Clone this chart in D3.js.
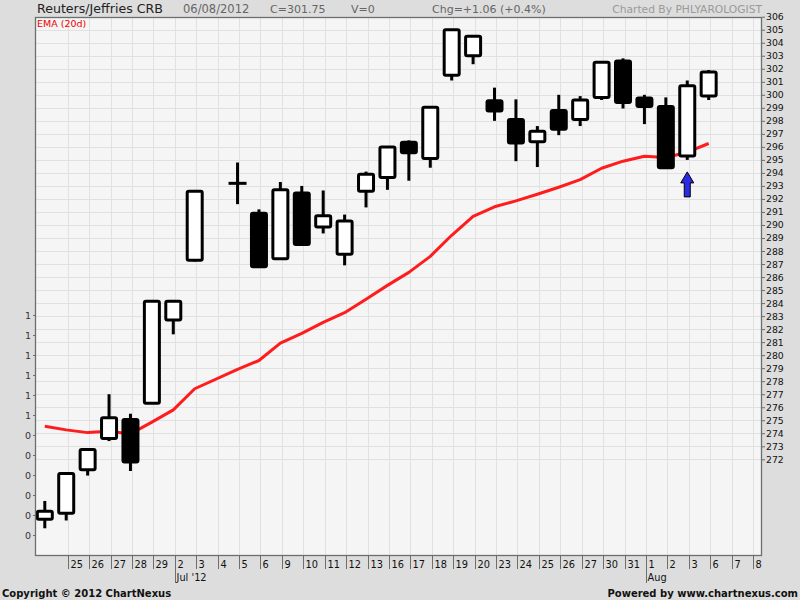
<!DOCTYPE html>
<html><head><meta charset="utf-8">
<script src="https://cdn.jsdelivr.net/npm/d3@7"></script>
<style>
html,body{margin:0;padding:0;background:#dddddd;}
svg{display:block;}
text{font-family:"DejaVu Sans",sans-serif;}
</style></head>
<body>
<svg id="c" width="800" height="600"></svg>
<script>
// ---- data ----
const slots = ["06-22","06-25","06-26","06-27","06-28","06-29","07-02","07-03","07-04","07-05","07-06","07-09","07-10","07-11","07-12","07-13","07-16","07-17","07-18","07-19","07-20","07-23","07-24","07-25","07-26","07-27","07-30","07-31","08-01","08-02","08-03","08-06","08-07","08-08"];
const slotLabels = ["","25","26","27","28","29","2","3","4","5","6","9","10","11","12","13","16","17","18","19","20","23","24","25","26","27","30","31","1","2","3","6","7","8"];
const monthSlots = ["07-02","08-01"];
const monthLabels = ["Jul '12","Aug"];

const candleDates = ["06-22","06-25","06-26","06-27","06-28","06-29","07-02","07-03","07-05","07-06","07-09","07-10","07-11","07-12","07-13","07-16","07-17","07-18","07-19","07-20","07-23","07-24","07-25","07-26","07-27","07-30","07-31","08-01","08-02","08-03","08-06"];
const openV  = [267.4,267.85,271.2,273.6,275.05,276.3,282.7,287.3,293.15,290.9,287.4,292.45,289.85,287.75,292.6,293.65,296.35,295.1,301.5,303.0,299.55,298.1,296.4,298.8,298.1,299.8,302.6,299.75,299.1,295.3,299.9];
const highV  = [268.8,270.9,272.8,277.0,275.5,284.2,284.15,292.6,294.8,291.2,293.3,293.0,292.65,290.8,294.1,296.0,296.5,299.05,305.0,304.5,300.55,299.65,297.6,300.0,299.9,302.5,302.8,300.0,299.8,301.1,301.9];
const lowV   = [266.7,267.3,270.75,273.4,271.1,276.3,281.6,287.2,291.6,286.7,287.4,288.5,289.35,286.9,291.35,292.7,293.4,294.4,301.1,302.35,298.0,294.9,294.45,296.9,297.6,299.6,298.95,297.75,294.4,295.0,299.6];
const closeV = [268.0,270.9,272.75,275.2,271.8,284.15,284.15,292.6,293.2,286.8,292.7,288.5,290.7,290.3,293.9,296.0,295.55,299.05,305.0,304.5,298.75,296.3,297.2,297.35,299.6,302.5,299.4,299.1,294.4,300.7,301.75];
const emaV   = [274.54,274.26,274.05,274.15,273.95,274.86,275.8,277.42,278.9,279.59,280.92,281.67,282.52,283.26,284.3,285.36,286.36,287.59,289.21,290.67,291.4,291.85,292.36,292.9,293.48,294.36,294.9,295.28,295.18,295.59,296.26];
const rightTicks = d3.range(272, 307);
const leftLabels = ["1","1","1","1","1","1","0","0","0","0","0","0"];
const arrowDate = "08-03";

// ---- layout ----
const svg = d3.select("#c");
const L = 35, R = 762, T = 17, B = 555;
const x = d3.scalePoint().domain(slots).range([46.3, 753]);
const cx = d => x(d) - 1.5;
const y = d3.scaleLinear().domain([272, 306]).range([459.3, 16.7]);
const yl = d3.scaleLinear().domain([0, 11]).range([315, 535]);

// plot background
svg.append("rect").attr("x", L).attr("y", T).attr("width", R - L).attr("height", B - T).attr("fill", "#f5f5f5");

// grid
const g = svg.append("g").attr("stroke", "#e1e1e1").attr("stroke-width", 1);
rightTicks.forEach(v => {
  const yy = Math.round(y(v)) + 0.5;
  g.append("line").attr("x1", L).attr("x2", R).attr("y1", yy).attr("y2", yy);
});
slots.slice(1).forEach(d => {
  const xx = Math.round(x(d)) + 0.5;
  g.append("line").attr("x1", xx).attr("x2", xx).attr("y1", T).attr("y2", B);
});

// EMA line
const emaData = candleDates.map((d, i) => ({d, v: emaV[i]}));
svg.append("path").datum(emaData)
  .attr("d", d3.line().x(p => cx(p.d)).y(p => y(p.v)))
  .attr("fill", "none").attr("stroke", "#ff1c1c").attr("stroke-width", 3).attr("stroke-linejoin", "round");

// candles
const candles = candleDates.map((d, i) => ({d, o: openV[i], h: highV[i], l: lowV[i], c: closeV[i]}));
const cg = svg.append("g");
candles.forEach(k => {
  const xc = cx(k.d);
  cg.append("line").attr("x1", xc).attr("x2", xc).attr("y1", y(k.h)).attr("y2", y(k.l))
    .attr("stroke", "#000").attr("stroke-width", 3);
  const top = y(Math.max(k.o, k.c)), bot = y(Math.min(k.o, k.c));
  if (bot - top < 1) {
    cg.append("line").attr("x1", xc - 9).attr("x2", xc + 9).attr("y1", top).attr("y2", top)
      .attr("stroke", "#000").attr("stroke-width", 3);
  } else {
    cg.append("rect").attr("x", xc - 7.5).attr("y", top).attr("width", 15).attr("height", bot - top)
      .attr("rx", 1.5)
      .attr("fill", k.c >= k.o ? "#ffffff" : "#000000").attr("stroke", "#000").attr("stroke-width", 3);
  }
});

// arrow annotation
const ai = candleDates.indexOf(arrowDate);
const ax = cx(arrowDate), ay = y(lowV[ai]) + 12;
svg.append("path")
  .attr("d", `M${ax},${ay} L${ax+6.5},${ay+11} L${ax+3},${ay+11} L${ax+3},${ay+25} L${ax-3},${ay+25} L${ax-3},${ay+11} L${ax-6.5},${ay+11} Z`)
  .attr("fill", "#2b2be6").attr("stroke", "#000").attr("stroke-width", 1);

// plot border
svg.append("rect").attr("x", L + 0.5).attr("y", T + 0.5).attr("width", R - L - 1).attr("height", B - T)
  .attr("fill", "none").attr("stroke", "#6a6f6f").attr("stroke-width", 1.3);

// right axis
const ra = svg.append("g").attr("transform", `translate(${R},0)`)
  .call(d3.axisRight(y).tickValues(rightTicks).tickSize(3).tickPadding(1).tickFormat(d3.format("d")));
ra.select(".domain").remove();
ra.selectAll("line").attr("stroke", "#6a6f6f");
ra.selectAll("text").attr("font-size", 9.3).attr("fill", "#111").attr("font-family", "DejaVu Sans");

// left axis
const la = svg.append("g").attr("transform", `translate(${L},0)`)
  .call(d3.axisLeft(yl).tickValues(d3.range(0, 12)).tickSize(2).tickPadding(2).tickFormat(i => leftLabels[i]));
la.select(".domain").remove();
la.selectAll("line").attr("stroke", "#6a6f6f");
la.selectAll("text").attr("font-size", 9.5).attr("fill", "#333").attr("font-family", "DejaVu Sans");

// bottom axis
const bg = svg.append("g");
slots.forEach((d, i) => {
  if (!slotLabels[i]) return;
  const xx = Math.round(x(d)) + 0.5;
  const isMonth = monthSlots.includes(d);
  bg.append("line").attr("x1", xx).attr("x2", xx).attr("y1", B).attr("y2", isMonth ? 583 : 569)
    .attr("stroke", "#6a6f6f").attr("stroke-width", 1);
  bg.append("text").attr("x", xx + 2).attr("y", 568).attr("font-size", 9.8).attr("fill", "#111").text(slotLabels[i]);
});
monthSlots.forEach((d, i) => {
  bg.append("text").attr("x", Math.round(x(d)) + 1.5).attr("y", 581).attr("font-size", 9.8).attr("fill", "#111").text(monthLabels[i]);
});

// header
const hdr = [
  {t: "Reuters/Jeffries CRB", x: 37, s: 12.6, c: "#222"},
  {t: "06/08/2012", x: 183, s: 11.5, c: "#666"},
  {t: "C=301.75", x: 270, s: 11, c: "#666"},
  {t: "V=0", x: 351, s: 11, c: "#666"},
  {t: "Chg=+1.06 (+0.4%)", x: 432, s: 11, c: "#666"}
];
hdr.forEach(h => svg.append("text").attr("x", h.x).attr("y", 13).attr("font-size", h.s).attr("fill", h.c).text(h.t));
svg.append("text").attr("x", 762).attr("y", 13).attr("text-anchor", "end").attr("font-size", 10.7).attr("fill", "#9a9a9a").text("Charted By PHLYAROLOGIST");
svg.append("text").attr("x", 37).attr("y", 26.5).attr("font-size", 9.5).attr("fill", "#ee0000").text("EMA (20d)");

// footer
svg.append("text").attr("x", 2).attr("y", 597).attr("font-family", "Liberation Sans, Arial, sans-serif").attr("font-weight", "bold").attr("font-size", 10).attr("fill", "#111").text("Copyright © 2012 ChartNexus");
svg.append("text").attr("x", 798).attr("y", 597).attr("text-anchor", "end").attr("font-family", "Liberation Sans, Arial, sans-serif").attr("font-weight", "bold").attr("font-size", 10).attr("fill", "#111").text("Powered by www.chartnexus.com");
</script>
</body></html>
